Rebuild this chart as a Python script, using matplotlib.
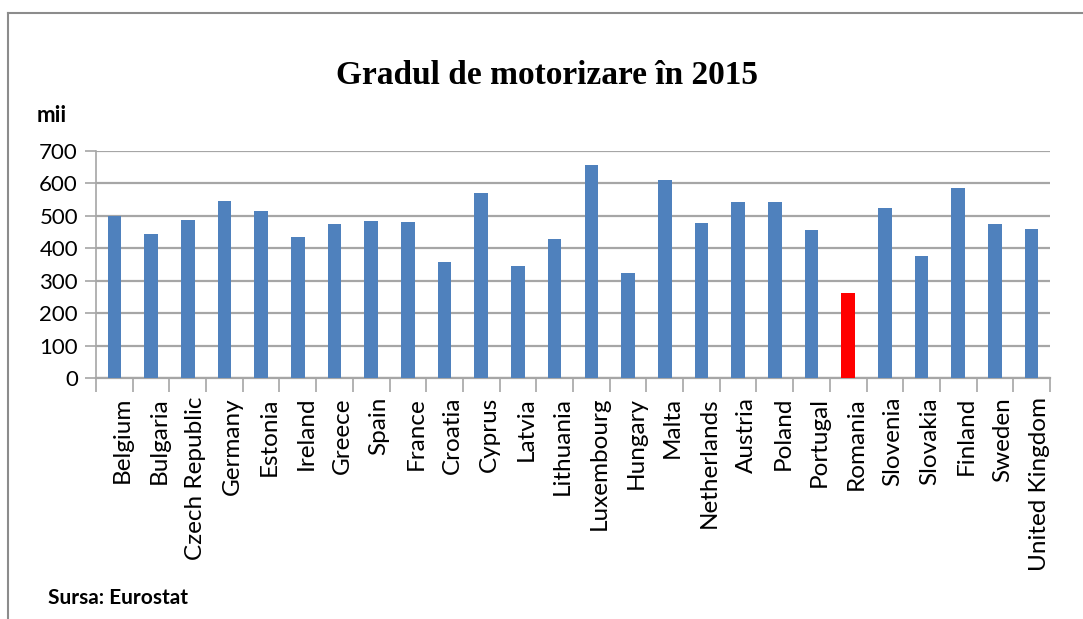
import matplotlib
matplotlib.use("Agg")
import matplotlib.pyplot as plt
from matplotlib.lines import Line2D
from matplotlib.transforms import ScaledTranslation

countries = ["Belgium", "Bulgaria", "Czech Republic", "Germany", "Estonia", "Ireland",
             "Greece", "Spain", "France", "Croatia", "Cyprus", "Latvia", "Lithuania",
             "Luxembourg", "Hungary", "Malta", "Netherlands", "Austria", "Poland",
             "Portugal", "Romania", "Slovenia", "Slovakia", "Finland", "Sweden",
             "United Kingdom"]
values = [499, 443, 487, 547, 514, 435, 475, 483, 482, 357, 572, 345, 430,
          658, 323, 612, 477, 544, 544, 456, 261, 523, 376, 587, 474, 461]
highlight = "Romania"
yticks = [0, 100, 200, 300, 400, 500, 600, 700]

W, H = 1083, 619
fig = plt.figure(figsize=(W / 100, H / 100), dpi=100)
fig.patch.set_facecolor("white")

# outer frame (partially visible)
fig.add_artist(Line2D([8 / W, 8 / W], [0, 1 - 13 / H], transform=fig.transFigure,
                      color="#8c8c8c", lw=1.5))
fig.add_artist(Line2D([8 / W, 1], [1 - 13 / H, 1 - 13 / H], transform=fig.transFigure,
                      color="#8c8c8c", lw=1.5))

ax = fig.add_axes([96 / W, 1 - 378 / H, (1050 - 96) / W, (378 - 151) / H])
x = list(range(len(countries)))
colors = ["#FF0000" if c == highlight else "#4F81BD" for c in countries]
ax.bar(x, values, width=0.37, color=colors, zorder=3)

ax.set_xlim(-0.5, len(countries) - 0.5)
ax.set_ylim(0, 700)
ax.set_yticks(yticks)
ax.set_yticklabels([str(v) for v in yticks], fontsize=16, family="Lato")
ax.yaxis.grid(True, color="#a6a6a6", lw=1.6, zorder=0)
ax.tick_params(axis="y", length=8, width=1.2, color="#a6a6a6", pad=5)

# category labels (rotated, slightly right of the category centre as in the reference)
ax.set_xticks([])
lbl_trans = ax.get_xaxis_transform() + ScaledTranslation(8 / 100, -19 / 100, fig.dpi_scale_trans)
for xi, name in zip(x, countries):
    ax.text(xi, 0, name, rotation=90, ha="center", va="top", fontsize=17.5,
            family="Lato", transform=lbl_trans)
ax.set_xticks([i - 0.5 for i in range(len(countries) + 1)], minor=True)
ax.tick_params(axis="x", which="minor", length=10, width=1.2, color="#a6a6a6")
for s in ["top", "right"]:
    ax.spines[s].set_visible(False)
ax.spines["left"].set_color("#a6a6a6")
ax.spines["left"].set_linewidth(1.2)
ax.spines["bottom"].set_color("#a6a6a6")
ax.spines["bottom"].set_linewidth(1.6)

fig.text(547 / W, 1 - 75 / H, "Gradul de motorizare în 2015", ha="center", va="center",
         fontsize=24, fontweight="bold", family="Liberation Serif")
fig.text(37 / W, 1 - 115 / H, "mii", ha="left", va="center", fontsize=16,
         fontweight="bold", family="Lato")
fig.text(48 / W, 1 - 598 / H, "Sursa: Eurostat", ha="left", va="center", fontsize=15,
         fontweight="bold", family="Lato")

fig.savefig("out.png", dpi=100)
